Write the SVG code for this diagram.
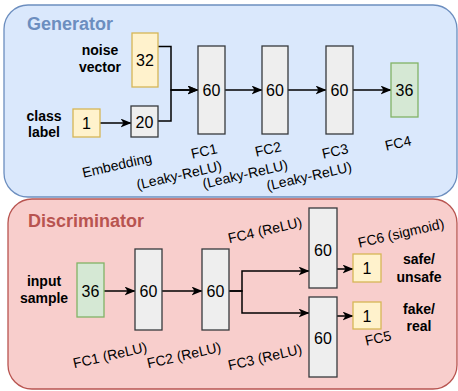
<svg xmlns="http://www.w3.org/2000/svg" width="458" height="391" viewBox="0 0 458 391">
<defs>
<marker id="arr" markerUnits="userSpaceOnUse" markerWidth="11" markerHeight="9" refX="10.5" refY="4.5" orient="auto">
<path d="M0,0 L11,4.5 L0,9 L3,4.5 z" fill="#000"/>
</marker>
<style>
.gray{fill:#eeeeee;stroke:#36393d;stroke-width:1.3}
.yel{fill:#fff2cc;stroke:#d6b656;stroke-width:1.3}
.grn{fill:#d5e8d4;stroke:#82b366;stroke-width:1.3}
.num{font-family:"Liberation Sans",Arial,sans-serif;font-size:16px;text-anchor:middle;fill:#000}
.bold{font-family:"Liberation Sans",Arial,sans-serif;font-size:14px;font-weight:bold;text-anchor:middle;fill:#000}
.lab{font-family:"Liberation Sans",Arial,sans-serif;font-size:14px;text-anchor:middle;fill:#000}
.title{font-family:"Liberation Sans",Arial,sans-serif;font-size:18px;font-weight:bold}
.edge{fill:none;stroke:#000;stroke-width:1.5;marker-end:url(#arr)}
</style>
</defs>

<g id="generator">
<rect x="4" y="5" width="453" height="192" rx="24" fill="#dae8fc" stroke="#6c8ebf" stroke-width="1.3"/>
<text class="title" x="27" y="30" fill="#6c8ebf">Generator</text>
</g>
<g id="discriminator">
<rect x="8" y="199" width="449" height="190" rx="24" fill="#f8cecc" stroke="#b85450" stroke-width="1.3"/>
<text class="title" x="28" y="227" fill="#b85450">Discriminator</text>
</g>

<g id="connectors">
<path class="edge" d="M100,123 H131"/>
<path class="edge" d="M158,46.5 H171 V90 H198"/>
<path class="edge" d="M158,121 H171 V90 H198"/>
<path class="edge" d="M225,90 H262"/>
<path class="edge" d="M288,90 H326"/>
<path class="edge" d="M353,90 H391"/>
<path class="edge" d="M104,291 H135"/>
<path class="edge" d="M162,291 H202"/>
<path class="edge" d="M229,291 H242 V271 H309"/>
<path class="edge" d="M229,291 H242 V313 H309"/>
<path class="edge" d="M337,269 H353"/>
<path class="edge" d="M337,316 H353"/>
</g>

<g id="noise-label"><text class="bold" x="100" y="55">noise</text><text class="bold" x="100" y="72">vector</text></g>
<g id="noise"><rect class="yel" x="132" y="33" width="26" height="54"/><text class="num" x="145" y="66">32</text></g>
<g id="class-label"><text class="bold" x="44" y="121">class</text><text class="bold" x="44" y="137">label</text></g>
<g id="label1"><rect class="yel" x="73" y="109" width="27" height="28"/><text class="num" x="86.5" y="129">1</text></g>
<g id="embedding"><rect class="gray" x="131" y="106" width="27" height="31"/><text class="num" x="144.5" y="127.5">20</text>
<text class="lab" x="117" y="170" transform="rotate(-13 117 165)">Embedding</text></g>
<g id="gfc1"><rect class="gray" x="198" y="46" width="27" height="88"/><text class="num" x="211.5" y="96">60</text>
<text class="lab" x="204" y="156" transform="rotate(-13 204 151)">FC1</text>
<text class="lab" x="179" y="180" transform="rotate(-13 179 175)">(Leaky-ReLU)</text></g>
<g id="gfc2"><rect class="gray" x="262" y="46" width="26" height="88"/><text class="num" x="275" y="96">60</text>
<text class="lab" x="268" y="154" transform="rotate(-13 268 149)">FC2</text>
<text class="lab" x="245" y="179" transform="rotate(-13 245 174)">(Leaky-ReLU)</text></g>
<g id="gfc3"><rect class="gray" x="326" y="46" width="27" height="88"/><text class="num" x="339.5" y="96">60</text>
<text class="lab" x="335" y="156" transform="rotate(-13 335 151)">FC3</text>
<text class="lab" x="309" y="181" transform="rotate(-13 309 176)">(Leaky-ReLU)</text></g>
<g id="gfc4"><rect class="grn" x="391" y="63" width="27" height="54"/><text class="num" x="404.5" y="96">36</text>
<text class="lab" x="398" y="148" transform="rotate(-13 398 143)">FC4</text></g>

<g id="input-label"><text class="bold" x="44" y="286">input</text><text class="bold" x="44" y="303">sample</text></g>
<g id="input"><rect class="grn" x="77" y="263" width="27" height="54"/><text class="num" x="90.5" y="297">36</text></g>
<g id="dfc1"><rect class="gray" x="135" y="249" width="27" height="81"/><text class="num" x="148.5" y="297">60</text>
<text class="lab" x="110" y="360" transform="rotate(-13 110 355)">FC1 (ReLU)</text></g>
<g id="dfc2"><rect class="gray" x="202" y="249" width="27" height="81"/><text class="num" x="215.5" y="297">60</text>
<text class="lab" x="184" y="360" transform="rotate(-13 184 355)">FC2 (ReLU)</text></g>
<g id="dfc4"><rect class="gray" x="309" y="208" width="28" height="80"/><text class="num" x="323" y="256">60</text>
<text class="lab" x="265" y="235" transform="rotate(-13 265 230)">FC4 (ReLU)</text></g>
<g id="dfc3"><rect class="gray" x="309" y="297" width="28" height="80"/><text class="num" x="323" y="344">60</text>
<text class="lab" x="265" y="362" transform="rotate(-13 265 357)">FC3 (ReLU)</text></g>
<g id="dfc6"><rect class="yel" x="353" y="254" width="28" height="28"/><text class="num" x="367" y="274">1</text>
<text class="lab" x="401" y="238" transform="rotate(-13 401 233)">FC6 (sigmoid)</text></g>
<g id="dfc5"><rect class="yel" x="353" y="302" width="28" height="27"/><text class="num" x="367" y="321.5">1</text>
<text class="lab" x="378" y="343" transform="rotate(-13 378 338)">FC5</text></g>
<g id="safe-label"><text class="bold" x="419" y="264">safe/</text><text class="bold" x="419" y="282">unsafe</text></g>
<g id="fake-label"><text class="bold" x="419" y="314">fake/</text><text class="bold" x="419" y="331">real</text></g>
</svg>
